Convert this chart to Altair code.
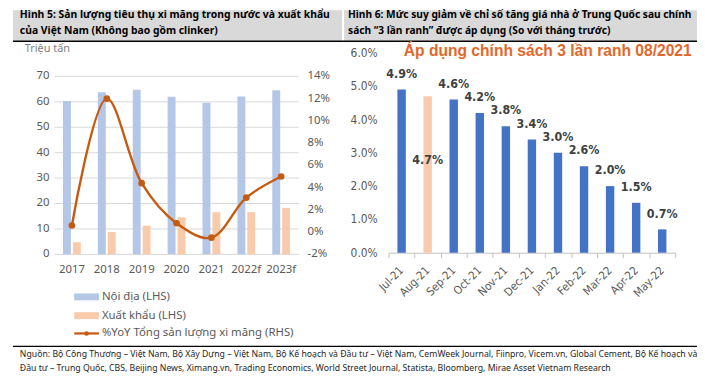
import altair as alt
import pandas as pd

# ---------------- data ----------------
years = ["2017", "2018", "2019", "2020", "2021", "2022f", "2023f"]
noi_dia = [60.3, 63.8, 64.8, 62.0, 59.6, 62.1, 64.6]
xuat_khau = [4.8, 8.8, 11.3, 14.6, 16.6, 16.6, 18.3]
yoy_pct = [0.6, 12.0, 4.4, 0.8, -0.5, 3.1, 5.0]
left_ticks = [0, 10, 20, 30, 40, 50, 60, 70]
right_ticks = [-2, 0, 2, 4, 6, 8, 10, 12, 14]

months = ["Jul-21", "Aug-21", "Sep-21", "Oct-21", "Nov-21", "Dec-21",
          "Jan-22", "Feb-22", "Mar-22", "Apr-22", "May-22"]
decline = [4.9, 4.7, 4.6, 4.2, 3.8, 3.4, 3.0, 2.6, 2.0, 1.5, 0.7]
decline_ticks = [0, 1, 2, 3, 4, 5, 6]
highlight_month = "Aug-21"

title5 = ["Hình 5: Sản lượng tiêu thụ xi măng trong nước và xuất khẩu",
          "của Việt Nam (Không bao gồm clinker)"]
title6 = ["Hình 6: Mức suy giảm về chỉ số tăng giá nhà ở Trung Quốc sau chính",
          "sách “3 lần ranh” được áp dụng (So với tháng trước)"]
unit_label = "Triệu tấn"
annotation = "Áp dụng chính sách 3 lần ranh 08/2021"
legend_labels = ["Nội địa (LHS)", "Xuất khẩu (LHS)", "%YoY Tổng sản lượng xi măng (RHS)"]
source_lines = [
    "Nguồn: Bộ Công Thương – Việt Nam, Bộ Xây Dựng – Việt Nam, Bộ Kế hoạch và Đầu tư – Việt Nam, CemWeek Journal, Fiinpro, Vicem.vn, Global Cement, Bộ Kế hoạch và",
    "Đầu tư – Trung Quốc, CBS, Beijing News, Ximang.vn, Trading Economics, World Street Journal, Statista, Bloomberg, Mirae Asset Vietnam Research",
]

# ---------------- style ----------------
C_NOI = "#B4C7E7"
C_XK = "#F8CBAD"
C_LINE = "#C55A11"
C_BLUE = "#4472C4"
C_ANN = "#E3672A"
GRAY_TXT = "#595959"
FONT = "Noto Sans"
NARROW = "Liberation Sans Narrow, DejaVu Sans Condensed, sans-serif"

left_df = pd.DataFrame({"year": years, "noi_dia": noi_dia, "xuat_khau": xuat_khau, "yoy": yoy_pct})
right_df = pd.DataFrame({"month": months, "value": decline})


def xL():
    return alt.Scale(type="point", domain=years, range=[47, 294], padding=0.5)


def yL():
    return alt.Scale(domain=[0, 70], range=[247, 67], nice=False)


def yR():
    return alt.Scale(domain=[-2, 14], range=[247, 67], nice=False, zero=False)


def xRp():
    return alt.Scale(type="point", domain=months, range=[385, 675], padding=0.5)


def yD():
    return alt.Scale(domain=[0, 6], range=[245.3, 43.3], nice=False)


def one_text(txt, x, y, **kw):
    return alt.Chart(pd.DataFrame({"t": [txt]})).mark_text(**kw).encode(
        text="t:N", x=alt.value(x), y=alt.value(y))


layers = []

# title boxes
layers.append(alt.Chart(pd.DataFrame({"a": [0]})).mark_rect(color="#D9D9D9").encode(
    x=alt.value(5), x2=alt.value(338), y=alt.value(0), y2=alt.value(31)))
layers.append(alt.Chart(pd.DataFrame({"a": [0]})).mark_rect(color="#D9D9D9").encode(
    x=alt.value(340), x2=alt.value(697), y=alt.value(0), y2=alt.value(31)))
layers.append(alt.Chart(pd.DataFrame({"a": [0]})).mark_rule(color="#000000", strokeWidth=1.5).encode(
    x=alt.value(5), x2=alt.value(697), y=alt.value(31.5)))
for i, t in enumerate(title5):
    layers.append(one_text(t, 12, 5 + 16.5 * i, font=FONT, fontSize=10.5, fontWeight="bold",
                           color="#000000", align="left", baseline="middle"))
for i, t in enumerate(title6):
    layers.append(one_text(t, 344, 5 + 16.5 * i, font=FONT, fontSize=10.3, fontWeight="bold",
                           color="#000000", align="left", baseline="middle"))

# ---------------- left chart ----------------
lt = pd.DataFrame({"v": left_ticks})
rt = pd.DataFrame({"v": right_ticks})
layers.append(alt.Chart(lt).mark_rule(color="#D9D9D9", strokeWidth=1).encode(
    y=alt.Y("v:Q", scale=yL(), axis=None), x=alt.value(47), x2=alt.value(294)))
layers.append(alt.Chart(lt).mark_text(font=FONT, fontSize=11.5, color=GRAY_TXT, align="right",
                                      baseline="middle").encode(
    y=alt.Y("v:Q", scale=yL(), axis=None), x=alt.value(42), text="v:Q"))
layers.append(alt.Chart(rt).transform_calculate(lbl="datum.v + '%'").mark_text(
    font=FONT, fontSize=11.5, color=GRAY_TXT, align="left", baseline="middle").encode(
    y=alt.Y("v:Q", scale=yR(), axis=None), x=alt.value(303), text="lbl:N"))
layers.append(alt.Chart(left_df).mark_text(font=FONT, fontSize=11.5, color=GRAY_TXT,
                                           baseline="middle").encode(
    x=alt.X("year:N", scale=xL(), axis=None), y=alt.value(263), text="year:N"))
layers.append(one_text(unit_label, 17, 39, font=FONT, fontSize=11, color="#7F7F7F",
                       align="left", baseline="middle"))

layers.append(alt.Chart(left_df).mark_bar(width=8, xOffset=-5, color=C_NOI).encode(
    x=alt.X("year:N", scale=xL(), axis=None), y=alt.Y("noi_dia:Q", scale=yL(), axis=None)))
layers.append(alt.Chart(left_df).mark_bar(width=8, xOffset=5, color=C_XK).encode(
    x=alt.X("year:N", scale=xL(), axis=None), y=alt.Y("xuat_khau:Q", scale=yL(), axis=None)))
layers.append(alt.Chart(left_df).mark_line(color=C_LINE, strokeWidth=2.4,
                                           interpolate="catmull-rom").encode(
    x=alt.X("year:N", scale=xL(), axis=None), y=alt.Y("yoy:Q", scale=yR(), axis=None)))
layers.append(alt.Chart(left_df).mark_point(color=C_LINE, filled=True, opacity=1, size=45).encode(
    x=alt.X("year:N", scale=xL(), axis=None), y=alt.Y("yoy:Q", scale=yR(), axis=None)))

# legend
leg_y = [290, 309, 327]
for i, (lab, col) in enumerate(zip(legend_labels[:2], [C_NOI, C_XK])):
    layers.append(alt.Chart(pd.DataFrame({"a": [0]})).mark_rule(color=col, strokeWidth=7).encode(
        x=alt.value(67), x2=alt.value(92), y=alt.value(leg_y[i])))
layers.append(alt.Chart(pd.DataFrame({"a": [0]})).mark_rule(color=C_LINE, strokeWidth=2.25).encode(
    x=alt.value(67), x2=alt.value(92), y=alt.value(leg_y[2])))
layers.append(alt.Chart(pd.DataFrame({"a": [0]})).mark_point(color=C_LINE, filled=True, opacity=1,
                                                            size=22).encode(
    x=alt.value(79.5), y=alt.value(leg_y[2])))
for i, lab in enumerate(legend_labels):
    layers.append(one_text(lab, 95, leg_y[i], font=FONT, fontSize=11.5, color=GRAY_TXT,
                           align="left", baseline="middle"))

# ---------------- right chart ----------------
dt = pd.DataFrame({"v": decline_ticks})
layers.append(alt.Chart(dt).transform_calculate(lbl="format(datum.v, '.1f') + '%'").mark_text(
    font=NARROW, fontSize=12, color=GRAY_TXT, align="right", baseline="middle").encode(
    y=alt.Y("v:Q", scale=yD(), axis=None), x=alt.value(374), text="lbl:N"))
layers.append(alt.Chart(right_df).mark_bar(width=8.5).encode(
    x=alt.X("month:N",
            scale=alt.Scale(type="band", domain=months, range=[385, 675], paddingInner=0, paddingOuter=0),
            axis=alt.Axis(orient="bottom", offset=-137.7, title=None, tickBand="extent", tickSize=5,
                          tickColor="#BFBFBF", domainColor="#BFBFBF", labelAngle=-45, labelAlign="right",
                          labelBaseline="middle", labelPadding=11, labelColor=GRAY_TXT, labelFont=NARROW,
                          labelFontSize=11.5, grid=False)),
    y=alt.Y("value:Q", scale=yD(), axis=None),
    color=alt.condition(alt.datum.month == highlight_month, alt.value(C_XK), alt.value(C_BLUE))))
layers.append(alt.Chart(right_df).transform_filter(alt.datum.month != highlight_month).transform_calculate(
    lbl="format(datum.value, '.1f') + '%'").mark_text(
    font=NARROW, fontSize=12.5, fontWeight="bold", color="#404040", baseline="bottom", dy=-9).encode(
    x=alt.X("month:N", scale=xRp(), axis=None), y=alt.Y("value:Q", scale=yD(), axis=None), text="lbl:N"))
layers.append(alt.Chart(right_df).transform_filter(alt.datum.month == highlight_month).transform_calculate(
    lbl="format(datum.value, '.1f') + '%'", mid="datum.value * 0.59").mark_text(
    font=NARROW, fontSize=12.5, fontWeight="bold", color="#404040", baseline="middle").encode(
    x=alt.X("month:N", scale=xRp(), axis=None), y=alt.Y("mid:Q", scale=yD(), axis=None), text="lbl:N"))
layers.append(one_text(annotation, 546, 41, font="Liberation Sans", fontSize=15.8, fontWeight="bold",
                       color=C_ANN, align="center", baseline="middle"))

# ---------------- footer ----------------
layers.append(alt.Chart(pd.DataFrame({"a": [0]})).mark_rule(color="#000000", strokeWidth=1.2).encode(
    x=alt.value(5), x2=alt.value(697), y=alt.value(340)))
for i, t in enumerate(source_lines):
    layers.append(one_text(t, 12, 348 + 14 * i, font=FONT, fontSize=8.8, color="#262626",
                           align="left", baseline="middle"))

chart = alt.layer(*layers).resolve_scale(x="independent", y="independent").properties(
    width=697, height=383, autosize=alt.AutoSizeParams(type="none"), padding=0,
    background="#FFFFFF").configure_view(stroke=None)

chart.save("out.html", embed_options={"renderer": "svg", "actions": False})
